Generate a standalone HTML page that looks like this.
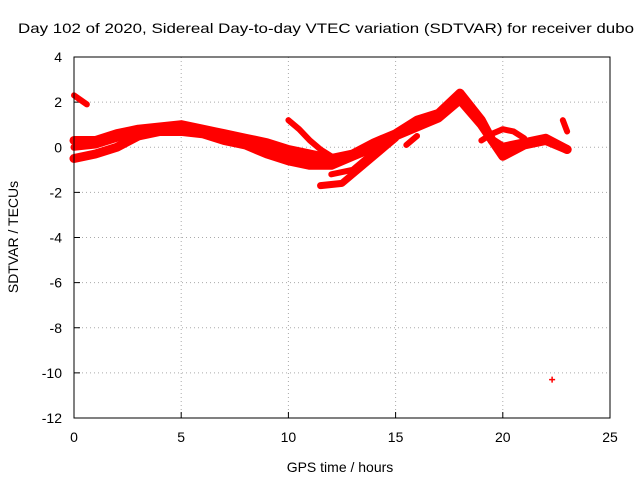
<!DOCTYPE html>
<html><head><meta charset="utf-8"><style>
body{margin:0;background:#fff;}
svg{display:block;font-family:"Liberation Sans",sans-serif;}
</style></head><body>
<svg id="chart" width="640" height="480">
<text x="18" y="33" font-size="14" textLength="616" lengthAdjust="spacingAndGlyphs">Day 102 of 2020, Sidereal Day-to-day VTEC variation (SDTVAR) for receiver dubo</text>
<g id="grid"></g><g id="ticks"></g><g id="series"></g>
<rect x="74" y="57" width="536" height="361" fill="none" stroke="#000"/>
<text x="340" y="472" font-size="14" text-anchor="middle">GPS time / hours</text>
<text transform="translate(18,237) rotate(-90)" font-size="14" text-anchor="middle">SDTVAR / TECUs</text>
</svg>
<script>
const xTicks=[0,5,10,15,20,25];
const yTicks=[4,2,0,-2,-4,-6,-8,-10,-12];
const trackAx=[0,1,2,3,4,5,6,7,8,9,10,11,12,13,14,15,16,17,18,19,19.5,20,21,22,23];
const trackAy=[0.3,0.3,0.6,0.8,0.9,1.0,0.8,0.6,0.4,0.2,-0.1,-0.3,-0.5,-0.3,0.2,0.6,1.2,1.5,2.4,1.2,0.3,0,0.2,0.4,-0.1];
const trackBx=[0,1,2,3,4,5,6,7,8,9,10,11,12,13,14,15,16,17,18,19,20,21,22,23];
const trackBy=[-0.5,-0.3,0,0.5,0.7,0.7,0.6,0.3,0.1,-0.3,-0.6,-0.8,-0.8,-0.4,0,0.5,0.9,1.3,2.1,1.0,-0.4,0.1,0.3,-0.1];
const trackCx=[0,1,2,3,4,5,6,7,8,9,10,11,12];
const trackCy=[0,0.1,0.4,0.7,0.8,0.9,0.7,0.4,0.2,-0.1,-0.4,-0.6,-0.7];
const trackDx=[0,0.3,0.6];const trackDy=[2.3,2.1,1.9];
const trackEx=[10,10.5,11,11.5,12,12.5];const trackEy=[1.2,0.8,0.3,-0.1,-0.4,-0.5];
const trackFx=[11.5,12.5,13.5,14.5,15];const trackFy=[-1.7,-1.6,-0.8,0,0.4];
const trackGx=[12,13,14];const trackGy=[-1.2,-1.0,-0.2];
const trackHx=[19,19.5,20,20.5,21];const trackHy=[0.3,0.6,0.8,0.7,0.4];
const trackIx=[22.8,23];const trackIy=[1.2,0.7];
const trackJx=[15.5,16];const trackJy=[0.1,0.5];
const outlierX=[22.3];const outlierY=[-10.3];
const NS="http://www.w3.org/2000/svg";
const X=v=>74+v*536/25, Y=v=>57+(4-v)*361/16;
const g=document.getElementById('grid'),t=document.getElementById('ticks'),s=document.getElementById('series');
function mk(tag,at,p){const e=document.createElementNS(NS,tag);for(const k in at)e.setAttribute(k,at[k]);p.appendChild(e);return e;}
xTicks.forEach(v=>{
 const l=mk('line',{x1:X(v),x2:X(v),y1:57,y2:418,stroke:'#aaa','stroke-dasharray':'1,3'},g);
 
 
 const tx=mk('text',{x:X(v),y:442,'font-size':14,'text-anchor':'middle'},t);tx.textContent=v;
 
 
 mk('line',{x1:X(v),x2:X(v),y1:418,y2:412,stroke:'#000'},t);
});
yTicks.forEach(v=>{
 const l=mk('line',{x1:74,x2:610,y1:Y(v),y2:Y(v),stroke:'#aaa','stroke-dasharray':'1,3'},g);
 
 
 const tx=mk('text',{x:62,y:Y(v)+5,'font-size':14,'text-anchor':'end'},t);tx.textContent=v;
 
 
 mk('line',{x1:74,x2:80,y1:Y(v),y2:Y(v),stroke:'#000'},t);
});
const tracks=[[trackAx,trackAy,9],[trackBx,trackBy,9],[trackCx,trackCy,7],[trackDx,trackDy,6],[trackEx,trackEy,6],[trackFx,trackFy,7],[trackGx,trackGy,6],[trackHx,trackHy,6],[trackIx,trackIy,6],[trackJx,trackJy,6]];
tracks.forEach(([xs,ys,w])=>{
 const d=xs.map((x,i)=>(i?'L':'M')+X(x)+','+Y(ys[i])).join('');
 const p=mk('path',{d:d,fill:'none',stroke:'#ff0000','stroke-width':w,'stroke-linejoin':'round','stroke-linecap':'round'},s);
 
 
});
outlierX.forEach((x,i)=>{
 const p=mk('path',{d:`M${X(x)-3},${Y(outlierY[i])}h6M${X(x)},${Y(outlierY[i])-3}v6`,stroke:'#ff0000','stroke-width':1.5},s);
 
 
});
</script>
</body></html>
